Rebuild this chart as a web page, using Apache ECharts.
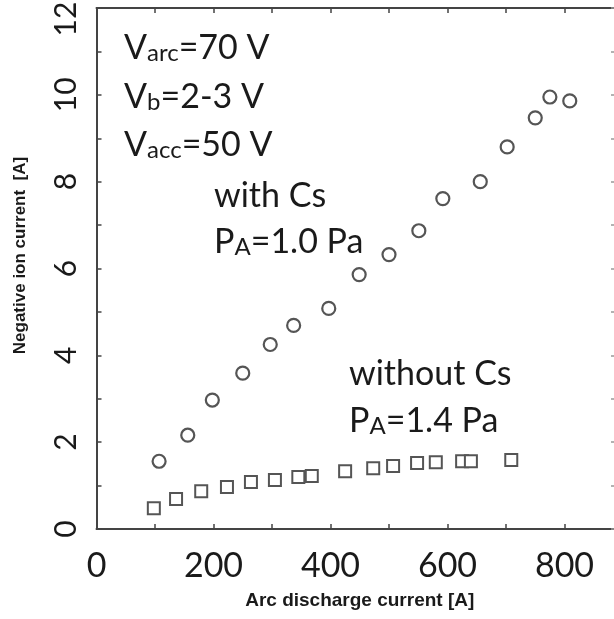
<!DOCTYPE html>
<html>
<head>
<meta charset="utf-8">
<script src="https://cdn.jsdelivr.net/npm/echarts@6/dist/echarts.min.js"></script>
<style>
  html, body { margin: 0; padding: 0; background: #fff; }
  #main { width: 614px; height: 619px; }
</style>
</head>
<body>
<div id="main"></div>
<script>
// with Cs, P_A = 1.0 Pa  (arc current [A], negative ion current [A])
var withCsX = [107, 156, 198, 250, 297, 337, 397, 449, 500, 551, 592, 656, 702, 750, 775, 809];
var withCsY = [1.56, 2.16, 2.97, 3.59, 4.25, 4.69, 5.08, 5.86, 6.32, 6.87, 7.61, 8.0, 8.80, 9.47, 9.95, 9.86];
// without Cs, P_A = 1.4 Pa
var noCsX = [98, 136, 179, 223, 264, 305, 345, 368, 425, 473, 507, 548, 580, 625, 640, 709];
var noCsY = [0.48, 0.69, 0.87, 0.97, 1.08, 1.13, 1.20, 1.22, 1.33, 1.40, 1.45, 1.52, 1.54, 1.56, 1.56, 1.59];

var xLabels = [0, 200, 400, 600, 800];
var yLabels = [0, 2, 4, 6, 8, 10, 12];

function pairs(xs, ys) {
  var out = [];
  for (var i = 0; i < xs.length; i++) out.push([xs[i], ys[i]]);
  return out;
}

var axisColor = '#444';
var textColor = '#1a1a1a';
var tickFont = 'Lato';

var myChart = echarts.init(document.getElementById('main'));

// main text and subscript styles for the annotations
var rich = {
  v: { fontSize: 34, fontFamily: tickFont, color: textColor, lineHeight: 40, verticalAlign: 'bottom' },
  s: { fontSize: 24, fontFamily: tickFont, color: textColor, lineHeight: 2, verticalAlign: 'bottom' }
};

function note(text, x, y) {
  return {
    type: 'text',
    left: x,
    top: y,
    style: { text: text, rich: rich, fill: textColor }
  };
}

// box axes on top / right, ticks only
function boxAxis(pos, max, interval, tickLen, tickColor) {
  return {
    type: 'value',
    position: pos,
    min: 0,
    max: max,
    interval: interval,
    axisLine: { onZero: false, lineStyle: { color: axisColor, width: 2 } },
    axisTick: { inside: true, length: tickLen, lineStyle: { color: tickColor, width: 1.5 } },
    axisLabel: { show: false },
    splitLine: { show: false }
  };
}

var option = {
  animation: false,
  backgroundColor: '#fff',
  // plot runs a bit past the right edge of the picture (cropped figure)
  grid: { left: 96.5, top: 8, bottom: 90, right: -9, outerBoundsMode: 'none', containLabel: false },
  xAxis: [{
    type: 'value',
    min: 0,
    max: 900,
    interval: 100,
    name: 'Arc discharge current [A]',
    nameLocation: 'middle',
    nameGap: 62,
    nameTextStyle: { fontFamily: 'Liberation Sans', fontWeight: 'bold', fontSize: 19, color: textColor },
    axisLine: { onZero: false, lineStyle: { color: axisColor, width: 2 } },
    axisTick: { inside: true, length: 5, lineStyle: { color: axisColor, width: 1.5 } },
    splitLine: { show: false },
    axisLabel: {
      margin: 20,
      fontFamily: tickFont,
      fontSize: 34,
      color: textColor,
      formatter: function (v) { return xLabels.indexOf(v) >= 0 ? String(v) : ''; }
    }
  }, boxAxis('top', 900, 100, 5, axisColor)],
  yAxis: [{
    type: 'value',
    min: 0,
    max: 12,
    interval: 1,
    name: 'Negative ion current  [A]',
    nameLocation: 'middle',
    nameGap: 68,
    nameTextStyle: { fontFamily: 'Liberation Sans', fontWeight: 'bold', fontSize: 17, color: textColor, padding: [0, 0, 0, 26] },
    axisLine: { onZero: false, lineStyle: { color: axisColor, width: 2 } },
    axisTick: { inside: true, length: 5, lineStyle: { color: axisColor, width: 1.5 } },
    splitLine: { show: false },
    axisLabel: {
      rotate: 90,
      margin: 15,
      fontFamily: tickFont,
      fontSize: 30,
      color: textColor,
      formatter: function (v) {
        if (yLabels.indexOf(v) < 0) return '';
        // top label sits a bit below its tick, as in the figure
        return v === 12 ? '{top|12}' : String(v);
      },
      rich: {
        top: { fontFamily: tickFont, fontSize: 30, color: textColor, padding: [0, 22, 0, 0] }
      }
    }
  }, boxAxis('right', 12, 1, 12, '#999')],
  series: [{
    name: 'with Cs',
    type: 'scatter',
    symbol: 'circle',
    symbolSize: 13,
    data: pairs(withCsX, withCsY),
    itemStyle: { color: '#fff', borderColor: '#555', borderWidth: 2.2, opacity: 1 }
  }, {
    name: 'without Cs',
    type: 'scatter',
    symbol: 'rect',
    symbolSize: 12,
    data: pairs(noCsX, noCsY),
    itemStyle: { color: '#fff', borderColor: '#555', borderWidth: 2, opacity: 1 }
  }],
  graphic: [
    note('{v|V}{s|arc}{v|=70 V}', 124, 31),
    note('{v|V}{s|b}{v|=2-3 V}', 124, 80),
    note('{v|V}{s|acc}{v|=50 V}', 124, 128),
    note('{v|with Cs}', 214, 179),
    note('{v|P}{s|A}{v|=1.0 Pa}', 214, 225),
    note('{v|without Cs}', 349, 357),
    note('{v|P}{s|A}{v|=1.4 Pa}', 349, 404)
  ]
};

myChart.setOption(option);
</script>
</body>
</html>
